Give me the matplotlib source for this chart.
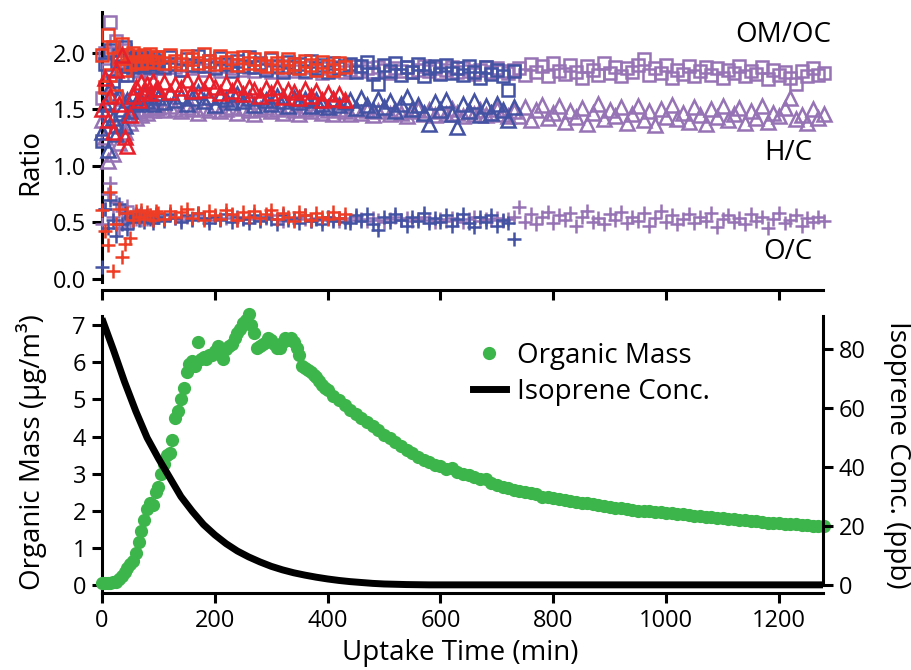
import numpy as np
import matplotlib
matplotlib.use('Agg')
import matplotlib.pyplot as plt
from matplotlib.lines import Line2D

plt.rcParams['font.family'] = ['Open Sans', 'DejaVu Sans']

# ---- top panel: elemental ratios, three experiments ----
t_early = np.arange(0, 100, 5)


def sample_times(end):
    return np.concatenate([t_early, np.arange(100, end + 1, 10)])


t_red = sample_times(430)
t_blue = sample_times(730)
t_purple = sample_times(1280)

red_omoc = [1.98, 1.70, 2.16, 1.80, 2.05, 1.62, 1.95, 2.08, 1.85, 1.98,
            1.90, 2.00, 1.92, 1.97, 1.91, 1.98, 1.93, 1.99, 1.92, 1.96,
            1.96, 1.91, 1.98, 1.93, 1.90, 1.97, 1.94, 1.91, 1.99, 1.93,
            1.90, 1.97, 1.92, 1.95, 1.89, 1.96, 1.91, 1.94, 1.90, 1.88,
            1.95, 1.91, 1.87, 1.94, 1.90, 1.86, 1.93, 1.89, 1.85, 1.92,
            1.88, 1.85, 1.91, 1.87]
red_hc = [1.50, 1.78, 1.40, 1.62, 1.30, 1.85, 1.55, 1.98, 1.25, 1.17,
          1.45, 1.62, 1.70, 1.58, 1.74, 1.66, 1.72, 1.64, 1.75, 1.68,
          1.68, 1.74, 1.65, 1.72, 1.69, 1.76, 1.66, 1.73, 1.67, 1.75,
          1.70, 1.64, 1.73, 1.66, 1.71, 1.63, 1.70, 1.67, 1.62, 1.69,
          1.64, 1.70, 1.61, 1.67, 1.65, 1.60, 1.68, 1.62, 1.66, 1.58,
          1.64, 1.59, 1.63, 1.58]
red_oc = [0.61, 0.42, 0.30, 0.77, 0.07, 0.48, 0.62, 0.19, 0.31, 0.58,
          0.36, 0.52, 0.60, 0.55, 0.61, 0.53, 0.59, 0.56, 0.52, 0.60,
          0.58, 0.53, 0.60, 0.55, 0.59, 0.62, 0.54, 0.58, 0.52, 0.60,
          0.56, 0.53, 0.61, 0.57, 0.52, 0.59, 0.55, 0.60, 0.54, 0.57,
          0.61, 0.53, 0.58, 0.55, 0.51, 0.59, 0.56, 0.52, 0.58, 0.55,
          0.53, 0.59, 0.54, 0.57]

blue_omoc = [1.22, 1.90, 1.45, 2.02, 1.75, 1.35, 1.98, 1.88, 2.05, 1.80,
             1.95, 1.87, 1.93, 1.88, 1.96, 1.89, 1.94, 1.87, 1.95, 1.90,
             1.93, 1.87, 1.96, 1.90, 1.85, 1.94, 1.89, 1.97, 1.88, 1.93,
             1.86, 1.95, 1.90, 1.84, 1.93, 1.88, 1.96, 1.87, 1.91, 1.85,
             1.94, 1.88, 1.83, 1.92, 1.87, 1.90, 1.84, 1.93, 1.86, 1.89,
             1.83, 1.91, 1.86, 1.88,
             1.90, 1.83, 1.88, 1.92, 1.81, 1.72, 1.89, 1.84, 1.91, 1.80,
             1.87, 1.83, 1.90, 1.79, 1.86, 1.88, 1.81, 1.89, 1.82, 1.86,
             1.80, 1.88, 1.83, 1.78, 1.87, 1.81, 1.85, 1.79, 1.67, 1.84]
blue_hc = [1.30, 1.55, 1.14, 1.70, 1.42, 1.28, 1.62, 1.50, 1.35, 1.58,
           1.48, 1.63, 1.55, 1.61, 1.56, 1.63, 1.57, 1.62, 1.55, 1.64,
           1.61, 1.56, 1.64, 1.58, 1.62, 1.55, 1.60, 1.65, 1.57, 1.61,
           1.54, 1.62, 1.59, 1.56, 1.63, 1.57, 1.60, 1.54, 1.61, 1.58,
           1.55, 1.62, 1.57, 1.53, 1.60, 1.56, 1.59, 1.53, 1.58, 1.55,
           1.52, 1.59, 1.54, 1.56,
           1.58, 1.51, 1.60, 1.54, 1.49, 1.59, 1.52, 1.57, 1.48, 1.55,
           1.61, 1.50, 1.54, 1.47, 1.37, 1.56, 1.49, 1.58, 1.46, 1.34,
           1.55, 1.48, 1.57, 1.45, 1.53, 1.47, 1.55, 1.49, 1.40, 1.52]
blue_oc = [0.10, 0.62, 0.45, 0.70, 0.52, 0.38, 0.66, 0.48, 0.58, 0.44,
           0.55, 0.50, 0.57, 0.52, 0.58, 0.50, 0.56, 0.53, 0.49, 0.57,
           0.55, 0.51, 0.57, 0.54, 0.50, 0.56, 0.52, 0.58, 0.54, 0.49,
           0.55, 0.52, 0.57, 0.50, 0.55, 0.53, 0.49, 0.56, 0.51, 0.55,
           0.53, 0.48, 0.56, 0.52, 0.54, 0.49, 0.56, 0.51, 0.53, 0.48,
           0.55, 0.51, 0.54, 0.50,
           0.49, 0.56, 0.51, 0.57, 0.48, 0.43, 0.55, 0.50, 0.57, 0.52,
           0.47, 0.55, 0.51, 0.58, 0.49, 0.54, 0.50, 0.56, 0.47, 0.53,
           0.57, 0.49, 0.46, 0.55, 0.50, 0.56, 0.47, 0.52, 0.49, 0.35]

purple_omoc = [1.60, 2.00, 1.85, 2.27, 1.70, 2.10, 1.92, 1.80, 2.02, 1.88,
               1.94, 1.85, 1.90, 1.84, 1.92, 1.86, 1.91, 1.83, 1.89, 1.86,
               1.88, 1.86, 1.90, 1.87, 1.85, 1.89, 1.86, 1.88, 1.85, 1.89,
               1.87, 1.84, 1.88, 1.86, 1.89, 1.85, 1.87, 1.84, 1.88, 1.86,
               1.83, 1.87, 1.85, 1.88, 1.84, 1.86, 1.83, 1.87, 1.85, 1.82,
               1.86, 1.84, 1.87, 1.83,
               1.85, 1.88, 1.84, 1.86, 1.83, 1.87, 1.85, 1.82, 1.86, 1.84,
               1.87, 1.83, 1.85, 1.88, 1.84, 1.86, 1.82, 1.85, 1.87, 1.83,
               1.86, 1.84, 1.81, 1.85, 1.87, 1.83, 1.86, 1.84, 1.82, 1.85,
               1.86, 1.80, 1.90, 1.83, 1.88, 1.79, 1.91, 1.84, 1.81, 1.89,
               1.83, 1.78, 1.88, 1.85, 1.80, 1.91, 1.82, 1.87, 1.79, 1.86,
               1.83, 1.89, 1.94, 1.80, 1.86, 1.82, 1.89, 1.78, 1.85, 1.81,
               1.88, 1.79, 1.84, 1.87, 1.80, 1.86, 1.78, 1.85, 1.82, 1.88,
               1.79, 1.84, 1.81, 1.87, 1.77, 1.85, 1.80, 1.83, 1.78, 1.72,
               1.84, 1.79, 1.86, 1.80, 1.82]
purple_hc = [1.40, 1.25, 1.04, 1.55, 1.10, 1.35, 1.20, 1.60, 1.30, 1.45,
             1.38, 1.50, 1.42, 1.48, 1.45, 1.50, 1.47, 1.52, 1.49, 1.51,
             1.52, 1.49, 1.53, 1.50, 1.48, 1.52, 1.50, 1.47, 1.51, 1.49,
             1.53, 1.48, 1.50, 1.52, 1.47, 1.51, 1.49, 1.46, 1.50, 1.52,
             1.48, 1.50, 1.47, 1.51, 1.49, 1.46, 1.50, 1.48, 1.51, 1.47,
             1.49, 1.46, 1.50, 1.48,
             1.46, 1.50, 1.47, 1.49, 1.45, 1.48, 1.51, 1.46, 1.49, 1.47,
             1.44, 1.48, 1.50, 1.46, 1.49, 1.45, 1.48, 1.46, 1.50, 1.47,
             1.44, 1.48, 1.46, 1.49, 1.45, 1.47, 1.50, 1.46, 1.44, 1.48,
             1.44, 1.52, 1.40, 1.49, 1.54, 1.42, 1.47, 1.53, 1.39, 1.48,
             1.43, 1.51, 1.37, 1.47, 1.55, 1.41, 1.49, 1.44, 1.52, 1.38,
             1.46, 1.53, 1.40, 1.48, 1.36, 1.50, 1.43, 1.54, 1.41, 1.47,
             1.39, 1.52, 1.45, 1.37, 1.50, 1.43, 1.53, 1.40, 1.46, 1.51,
             1.38, 1.48, 1.42, 1.53, 1.39, 1.47, 1.44, 1.51, 1.60, 1.41,
             1.45, 1.38, 1.50, 1.42, 1.46]
purple_oc = [0.48, 0.62, 0.75, 0.85, 0.55, 0.68, 0.45, 0.60, 0.52, 0.64,
             0.50, 0.57, 0.53, 0.56, 0.52, 0.55, 0.53, 0.56, 0.52, 0.55,
             0.55, 0.53, 0.56, 0.54, 0.52, 0.55, 0.53, 0.56, 0.54, 0.52,
             0.55, 0.53, 0.54, 0.56, 0.52, 0.54, 0.53, 0.55, 0.52, 0.54,
             0.56, 0.53, 0.51, 0.54, 0.52, 0.55, 0.53, 0.51, 0.54, 0.52,
             0.55, 0.53, 0.51, 0.54,
             0.52, 0.55, 0.53, 0.51, 0.54, 0.52, 0.50, 0.53, 0.55, 0.52,
             0.54, 0.51, 0.53, 0.55, 0.52, 0.50, 0.53, 0.51, 0.54, 0.52,
             0.50, 0.53, 0.55, 0.51, 0.53, 0.52, 0.54, 0.51, 0.53, 0.55,
             0.63, 0.50, 0.57, 0.48, 0.55, 0.59, 0.49, 0.56, 0.52, 0.58,
             0.47, 0.55, 0.60, 0.50, 0.54, 0.48, 0.57, 0.52, 0.59, 0.49,
             0.55, 0.51, 0.58, 0.47, 0.54, 0.60, 0.50, 0.56, 0.48, 0.53,
             0.57, 0.49, 0.55, 0.51, 0.58, 0.46, 0.53, 0.56, 0.50, 0.54,
             0.48, 0.57, 0.51, 0.55, 0.45, 0.53, 0.58, 0.49, 0.52, 0.56,
             0.47, 0.54, 0.50, 0.55, 0.51]

ratio_labels = ['OM/OC', 'H/C', 'O/C']
ratio_label_x = [1207, 1217, 1216]
ratio_label_y = [2.156, 1.114, 0.233]

# ---- bottom panel: organic mass and isoprene ----
t_mass = np.concatenate([np.arange(0, 400, 5), np.arange(400, 1281, 10)])
organic_mass = [0.05, 0.06, 0.05, 0.06, 0.07, 0.08, 0.15, 0.25, 0.35, 0.45,
                0.55, 0.65, 0.85, 1.15, 1.45, 1.75, 2.05, 2.20, 2.15, 2.50,
                2.65, 3.00, 3.25, 3.50, 3.55, 3.90, 4.50, 4.70, 5.00, 5.30,
                5.75, 5.95, 6.05, 5.90, 6.55, 6.10, 6.15, 6.10, 6.20, 6.20,
                6.30, 6.45, 6.30, 6.10, 6.35, 6.45, 6.50, 6.65, 6.80, 6.90,
                7.05, 7.15, 7.30, 7.00, 6.80, 6.40, 6.45, 6.50, 6.55, 6.65,
                6.60, 6.50, 6.40, 6.40, 6.55, 6.65, 6.60, 6.65, 6.55, 6.40,
                6.20, 5.90, 5.85, 5.80, 5.75, 5.65, 5.60, 5.50, 5.40, 5.30,
                5.25, 5.10, 4.98, 4.85, 4.72, 4.60, 4.50, 4.40, 4.28, 4.18,
                4.05, 3.95, 3.85, 3.75, 3.65, 3.55, 3.45, 3.38, 3.30, 3.22,
                3.20, 3.12, 3.15, 3.05, 2.98, 2.95, 2.90, 2.85, 2.85, 2.75,
                2.70, 2.65, 2.60, 2.55, 2.52, 2.50, 2.48, 2.45, 2.38, 2.36,
                2.34, 2.31, 2.28, 2.26, 2.24, 2.22, 2.20, 2.17, 2.15, 2.12,
                2.10, 2.08, 2.06, 2.05, 2.02, 2.00, 1.99, 1.98, 1.97, 1.96,
                1.95, 1.94, 1.92, 1.90, 1.89, 1.87, 1.86, 1.84, 1.83, 1.81,
                1.80, 1.78, 1.77, 1.75, 1.74, 1.72, 1.71, 1.69, 1.67, 1.66,
                1.66, 1.65, 1.63, 1.64, 1.62, 1.61, 1.60, 1.59, 1.58]

t_iso = np.arange(0, 1281, 20)
isoprene = [90.5, 80.0, 69.0, 59.0, 50.0, 43.0, 36.5, 30.0, 25.0, 20.5,
            17.0, 14.0, 11.5, 9.5, 7.8, 6.3, 5.1, 4.1, 3.3, 2.6,
            2.0, 1.5, 1.1, 0.8, 0.5, 0.3, 0.2, 0.1, 0.05] + [0.0] * 36

red_sq, red_tri = '#ee3d24', '#e8202b'
blue = '#4352a3'
purple = '#9673b4'
green = '#3cb54a'

fig = plt.figure(figsize=(9.12, 6.70), dpi=100)
ax1 = fig.add_axes([0.1118, 0.5672, 0.7906, 0.4149])
ax2 = fig.add_axes([0.1118, 0.1149, 0.7906, 0.4134])
ax3 = ax2.twinx()

series = [
    (t_purple, purple_omoc, purple_hc, purple_oc, purple, purple),
    (t_blue, blue_omoc, blue_hc, blue_oc, blue, blue),
    (t_red, red_omoc, red_hc, red_oc, red_sq, red_tri),
]
for t, omoc, hc, oc, c_sq, c_tri in series:
    ax1.plot(t, omoc, ls='none', marker='s', ms=8.5, mfc='none', mec=c_sq,
             mew=1.8, zorder=3, clip_on=False)
    ax1.plot(t, hc, ls='none', marker='^', ms=9.5, mfc='none', mec=c_tri,
             mew=1.8, zorder=3, clip_on=False)
    ax1.plot(t, oc, ls='none', marker='+', ms=10, mec=c_sq, mew=1.8,
             zorder=3, clip_on=False)

for lab, x, y in zip(ratio_labels, ratio_label_x, ratio_label_y):
    ax1.text(x, y, lab, ha='center', va='center', fontsize=20)

xmax = 1278
ax1.set_xlim(0, xmax)
ax1.set_ylim(-0.1, 2.36)
ax1.set_yticks([0, 0.5, 1.0, 1.5, 2.0])
ax1.set_yticklabels(['0.0', '0.5', '1.0', '1.5', '2.0'])
ax1.set_xticks(range(0, 1201, 200))
ax1.set_xticklabels([])
ax1.spines['top'].set_visible(False)
ax1.spines['right'].set_visible(False)
ax1.spines['left'].set_bounds(-0.03, 2.36)

ax2.plot(t_mass, organic_mass, ls='none', marker='o', ms=8.5, color=green,
         zorder=3, clip_on=False)
ax3.plot(t_iso, isoprene, color='black', lw=5, solid_capstyle='butt')

ax2.set_xlim(0, xmax)
ax2.set_ylim(-0.22, 7.25)
ax3.set_ylim(-0.22 * 12.6, 7.25 * 12.6)
ax2.set_yticks(range(0, 8))
ax3.set_yticks(range(0, 81, 20))
ax2.set_xticks(range(0, 1201, 200))
ax2.spines['top'].set_visible(False)
ax2.spines['right'].set_visible(False)
for s in ['top', 'bottom', 'left']:
    ax3.spines[s].set_visible(False)
ax3.spines['right'].set_bounds(-0.05, 7.25 * 12.6)

for a in (ax1, ax2, ax3):
    for s in a.spines.values():
        s.set_linewidth(2.2)
    a.tick_params(direction='out', length=7.5, width=2.2, labelsize=17, pad=4)

handles = [Line2D([], [], ls='none', marker='o', ms=8.5, color=green),
           Line2D([], [], color='black', lw=5)]
ax3.legend(handles, ['Organic Mass', 'Isoprene Conc.'], loc='upper left',
           bbox_to_anchor=(0.495, 0.957), frameon=False, fontsize=20,
           borderpad=0, handlelength=1.2, handletextpad=0.4, labelspacing=0.28)

fig.text(0.033, 0.758, 'Ratio', rotation=90, ha='center', va='center', fontsize=20)
fig.text(0.035, 0.325, 'Organic Mass (µg/m³)', rotation=90, ha='center',
         va='center', fontsize=20)
fig.text(0.984, 0.321, 'Isoprene Conc. (ppb)', rotation=270, ha='center',
         va='center', fontsize=20)
fig.text(0.505, 0.025, 'Uptake Time (min)', ha='center', va='center', fontsize=20)

fig.savefig('out.png', dpi=100)
